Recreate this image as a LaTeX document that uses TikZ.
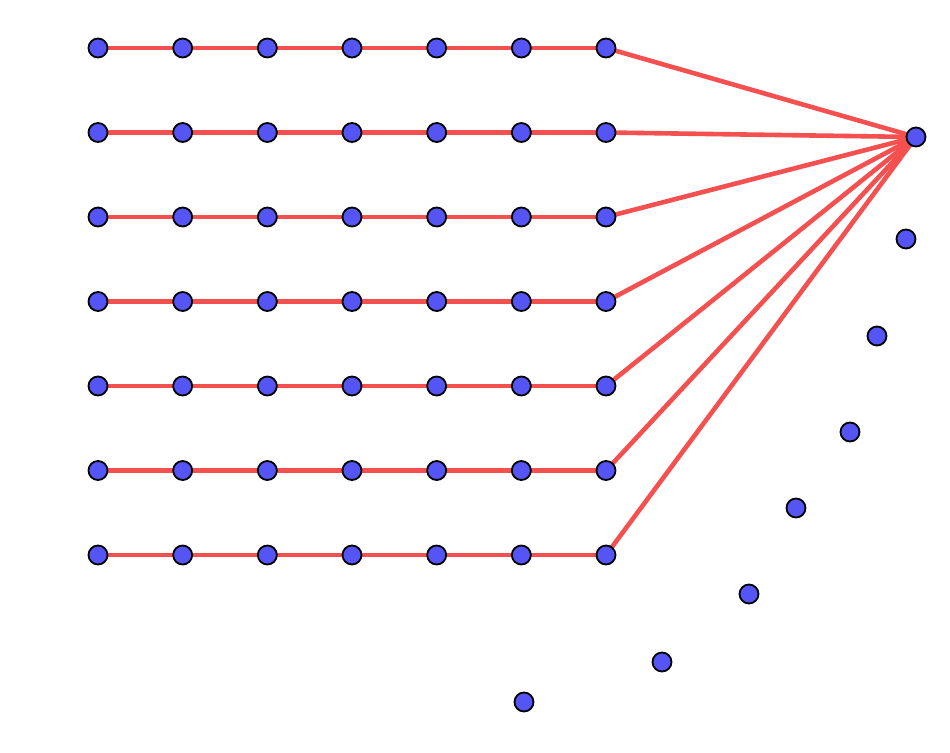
\documentclass[tikz,border=0pt]{standalone}
\usetikzlibrary{backgrounds}
\definecolor{dotblue}{RGB}{85,85,245}
\definecolor{linered}{RGB}{245,80,80}
\begin{document}
\begin{tikzpicture}[x=1pt,y=-1pt,
  dot/.style={circle,draw=black,line width=1.8pt,fill=dotblue,inner sep=0pt,minimum size=19pt},
  link/.style={draw=linered,line width=4.6pt}]
\useasboundingbox (0,0) rectangle (950,752);
\foreach \r in {1,...,7}{
  \foreach \c in {1,...,7}{
    \node[dot] (n\r\c) at ({98+(\c-1)*84.67},{48+(\r-1)*84.5}) {};
  }
}
\node[dot] (hub) at (916,137) {};
\node[dot] (s1) at (906,239) {};
\node[dot] (s2) at (877,336) {};
\node[dot] (s3) at (850,432) {};
\node[dot] (s4) at (796,508) {};
\node[dot] (s5) at (749,594) {};
\node[dot] (s6) at (662,662) {};
\node[dot] (s7) at (524,702) {};
\begin{scope}[on background layer]
\foreach \r in {1,...,7}{
  \foreach \c [evaluate=\c as \d using int(\c+1)] in {1,...,6}{
    \draw[link] (n\r\c.center) -- (n\r\d.center);
  }
  \draw[link] (n\r7.center) -- (hub.center);
}
\end{scope}
\end{tikzpicture}
\end{document}
